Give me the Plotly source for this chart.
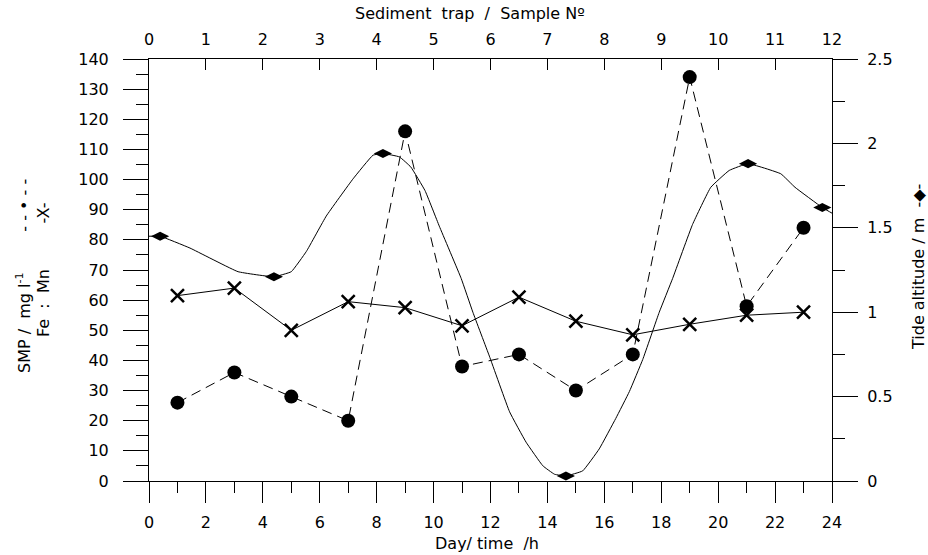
import plotly.graph_objects as go

# ---------------- data ----------------
sample_hours = [1, 3, 5, 7, 9, 11, 13, 15, 17, 19, 21, 23]
smp_values = [26, 36, 28, 20, 116, 38, 42, 30, 42, 134, 58, 84]
fe_mn_values = [61.5, 64, 50, 59.5, 57.5, 51.5, 61, 53, 48.5, 52, 55, 56]

tide_hours = [0.0, 0.39, 1.44, 3.13, 4.39, 5.0, 5.53, 6.23, 7.17, 7.87, 8.22, 8.8,
              9.2, 9.7, 10.2, 10.97, 11.38, 11.96, 12.67, 13.25, 13.84, 14.25, 14.65,
              15.24, 15.82, 16.4, 16.88, 17.35, 17.93, 18.4, 19.1, 19.74, 20.39,
              21.05, 22.2, 22.7, 23.66, 24.07]
tide_m = [1.45, 1.45, 1.38, 1.24, 1.21, 1.24, 1.36, 1.57, 1.79, 1.93, 1.94, 1.92,
          1.86, 1.72, 1.51, 1.20, 1.00, 0.74, 0.41, 0.23, 0.09, 0.04, 0.03,
          0.06, 0.19, 0.37, 0.53, 0.72, 1.00, 1.20, 1.52, 1.74, 1.84,
          1.88, 1.82, 1.74, 1.62, 1.58]

extreme_hours = [0.39, 4.39, 8.22, 14.65, 21.05, 23.66]
extreme_m = [1.45, 1.21, 1.94, 0.03, 1.88, 1.62]

sample_numbers = list(range(0, 13))
# --------------------------------------

FONT = "DejaVu Sans"
FS = 16
L, R, T, B = 149, 96, 59, 74
W, H = 928, 555
PW, PH = W - L - R, H - T - B


def px(xp):
    return (xp - L) / PW


def py(yp):
    return (H - B - yp) / PH


fig = go.Figure()

fig.add_trace(go.Scatter(
    x=tide_hours, y=tide_m, mode="lines", yaxis="y2",
    line=dict(color="black", width=1, shape="spline", smoothing=0.3),
    showlegend=False, hoverinfo="skip"))
fig.add_trace(go.Scatter(
    x=extreme_hours, y=extreme_m, mode="markers", yaxis="y2",
    marker=dict(symbol="diamond-wide", size=13, color="black"),
    showlegend=False))
fig.add_trace(go.Scatter(
    x=sample_hours, y=fe_mn_values, mode="lines+markers",
    line=dict(color="black", width=1),
    marker=dict(symbol="x-thin", size=13, line=dict(color="black", width=2.5)),
    showlegend=False))
fig.add_trace(go.Scatter(
    x=sample_hours, y=smp_values, mode="lines+markers",
    line=dict(color="black", width=1, dash="10px,6px"),
    marker=dict(symbol="circle", size=14, color="black"),
    showlegend=False))

# invisible trace to activate top axis
fig.add_trace(go.Scatter(x=[sample_numbers[0], sample_numbers[-1]], y=[None, None],
                         xaxis="x2", mode="markers", showlegend=False, hoverinfo="skip"))

axis_common = dict(showgrid=False, zeroline=False, showline=True, linecolor="black",
                   linewidth=1, tickcolor="black", tickwidth=1,
                   tickfont=dict(family=FONT, size=FS, color="black"))

fig.update_layout(
    width=W, height=H,
    margin=dict(l=L, r=R, t=T, b=B, pad=0),
    paper_bgcolor="white", plot_bgcolor="white",
    font=dict(family=FONT, size=FS, color="black"),
    xaxis=dict(range=[0, 24], tickmode="linear", tick0=0, dtick=2,
               ticks="outside", ticklen=21,
               minor=dict(dtick=1, tick0=0, ticks="outside", ticklen=11, tickcolor="black"),
               ticklabelstandoff=6, **axis_common),
    xaxis2=dict(range=[0, 12], overlaying="x", side="top", anchor="y",
                tickmode="array", tickvals=sample_numbers,
                ticktext=[str(s) for s in sample_numbers],
                ticks="inside", ticklen=11, ticklabelstandoff=7, **axis_common),
    yaxis=dict(range=[0, 140], tickmode="linear", tick0=0, dtick=10,
               ticks="outside", ticklen=25,
               minor=dict(dtick=5, tick0=0, ticks="outside", ticklen=12, tickcolor="black"),
               ticklabelstandoff=11, **axis_common),
    yaxis2=dict(range=[0, 2.5], overlaying="y", side="right", anchor="x",
                tickmode="array", tickvals=[0, 0.5, 1, 1.5, 2, 2.5],
                ticktext=["0", "0.5", "1", "1.5", "2", "2.5"],
                ticks="outside", ticklen=25,
                minor=dict(dtick=0.25, tick0=0, ticks="outside", ticklen=12, tickcolor="black"),
                ticklabelstandoff=6, **axis_common),
)

nb = "\u00a0"
ann_font = dict(family=FONT, size=FS, color="black")
annotations = [
    dict(text="SMP" + nb + "/" + nb * 2 + "mg" + nb + "l<sup>-1</sup>" + nb * 8
         + "-" + nb + "-" + nb + "•" + nb + "-" + nb + "-",
         x=px(23), y=py(276), textangle=-90),
    dict(text="Fe" + nb * 2 + ":" + nb * 2 + "Mn" + nb * 9 + "-X-",
         x=px(43), y=py(270), textangle=-90),
    dict(text="Tide altitude / m" + nb * 2 + "-◆-",
         x=px(918), y=py(267), textangle=-90),
    dict(text="Sediment" + nb * 2 + "trap" + nb * 2 + "/" + nb * 2 + "Sample Nº",
         x=px(470), y=py(13), textangle=0),
    dict(text="Day/ time" + nb * 2 + "/h",
         x=px(487), y=py(543), textangle=0),
]
for a in annotations:
    fig.add_annotation(xref="paper", yref="paper", showarrow=False,
                       xanchor="center", yanchor="middle", font=ann_font, **a)

fig.write_html("out.html")
